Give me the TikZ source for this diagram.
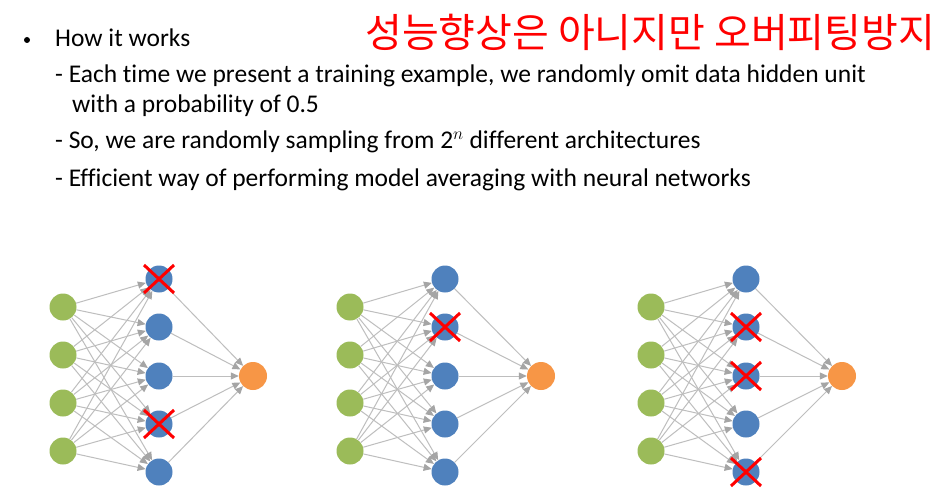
\documentclass[tikz,border=0pt]{standalone}
\usepackage{fontspec}
\setmainfont[Ligatures={NoCommon}]{Carlito}
\newfontfamily\krfont{Noto Sans CJK KR}
\usetikzlibrary{arrows.meta}
\definecolor{ingreen}{HTML}{9BBB59}
\definecolor{hidblue}{HTML}{4F81BD}
\definecolor{outorange}{HTML}{F79646}
\definecolor{edgegray}{HTML}{BEBEBE}
\definecolor{tipgray}{HTML}{A5A5A5}
\begin{document}
\begin{tikzpicture}[x=1pt,y=-1pt,
  inunit/.style={circle,fill=ingreen,minimum size=27pt,inner sep=0pt},
  hidunit/.style={circle,fill=hidblue,minimum size=27pt,inner sep=0pt},
  outunit/.style={circle,fill=outorange,minimum size=28pt,inner sep=0pt},
  conn/.style={draw=edgegray,line width=1pt,-{Triangle[length=8pt,width=7pt,color=tipgray]}},
  dropmark/.style={draw=red,line width=3pt},
  bodytext/.style={anchor=base west,font=\fontsize{25.5}{30}\selectfont,inner sep=0pt},
  handnote/.style={anchor=base west,font=\krfont\fontsize{40}{44}\selectfont,text=red,inner sep=0pt}
]
\useasboundingbox[fill=white] (0,0) rectangle (942,500);

% text
\node[circle,fill=black,minimum size=6pt,inner sep=0pt] (bul) at (27,40) {};
\node[bodytext] (t1) at (55,47) {How it works};
\node[bodytext] (t2) at (55,83) {- Each time we present a training example, we randomly omit data hidden unit};
\node[bodytext] (t3) at (72,113) {with a probability of 0.5};
\node[bodytext] (t4) at (55,149) {- So, we are randomly sampling from 2$^{n}$ different architectures};
\node[bodytext] (t5) at (55,186) {- Efficient way of performing model averaging with neural networks};
\node[handnote] (note) at (365,48) {성능향상은 아니지만 오버피팅방지};

% networks
\foreach \n/\xi/\xh/\xo in {1/63/159/253, 2/350/445/541, 3/651/746/842} {
  \foreach \k/\yy in {1/307,2/355,3/403,4/451}
    \node[inunit] (i\n-\k) at (\xi,\yy) {};
  \foreach \k/\yy in {1/279,2/327,3/376,4/424,5/472}
    \node[hidunit] (h\n-\k) at (\xh,\yy) {};
  \node[outunit] (o\n) at (\xo,376) {};
  \foreach \a in {1,...,4}
    \foreach \b in {1,...,5}
      \draw[conn] (i\n-\a) -- (h\n-\b);
  \foreach \b in {1,...,5}
    \draw[conn] (h\n-\b) -- (o\n);
}

% dropped units
\foreach \n/\k in {1/1,1/4,2/2,3/2,3/3,3/5} {
  \draw[dropmark] ([shift={(-15,-14)}]h\n-\k.center) -- ([shift={(15,14)}]h\n-\k.center);
  \draw[dropmark] ([shift={(-15,14)}]h\n-\k.center) -- ([shift={(15,-14)}]h\n-\k.center);
}
\end{tikzpicture}
\end{document}
